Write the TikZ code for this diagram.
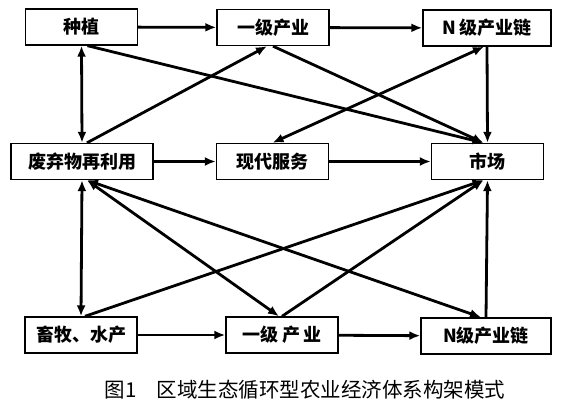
\documentclass[tikz,border=0pt]{standalone}
\usepackage{fontspec}
\newfontfamily\cjk{Noto Sans CJK SC}
\usetikzlibrary{arrows.meta}

\begin{document}
\begin{tikzpicture}[x=1pt,y=1pt,->,>={Latex[length=11pt,width=9pt]},line width=2.8pt,
  box/.style={draw,->,line width=1.4pt,minimum width=112pt,minimum height=36pt,inner sep=0pt,
    font=\cjk\bfseries\fontsize{18}{20}\selectfont}]
  \useasboundingbox (0,0) rectangle (572,412);
  % top row
  \node[box] (zz) at (81.5,385) {种植};
  \node[box] (yj1) at (273,384.5) {一级产业};
  \node[box,minimum width=128pt] (nj1) at (487,384) {N 级产业链};
  % middle row
  \node[box,minimum width=142pt] (fq) at (82,250.5) {废弃物再利用};
  \node[box] (xd) at (272.5,250.5) {现代服务};
  \node[box] (sc) at (487.5,250.5) {市场};
  % bottom row
  \node[box] (xm) at (81,77) {畜牧、水产};
  \node[box] (yj2) at (282,77) {一级\hspace{4pt}产\hspace{4pt}业};
  \node[box,minimum width=130pt] (nj2) at (486,76) {N级产业链};
  \node[font=\cjk\fontsize{20.5}{22}\selectfont] (cap) at (305,22)
    {图1\quad 区域生态循环型农业经济体系构架模式};
  % where the slanted lines meet the boxes
  \coordinate (zz-s) at ([xshift=6pt]zz.south);
  \coordinate (yj1-s) at ([xshift=-6pt]yj1.south);
  \coordinate (nj1-s) at ([xshift=-3pt]nj1.south);
  \coordinate (fq-n) at ([xshift=5pt]fq.north);
  \coordinate (fq-s) at ([xshift=5pt]fq.south);
  \coordinate (sc-n) at ([xshift=-4pt]sc.north);
  \coordinate (sc-s) at ([xshift=-4pt]sc.south);
  \coordinate (xm-n) at ([xshift=4pt]xm.north);
  \coordinate (yj2-n) at ([xshift=-3pt]yj2.north);
  \coordinate (nj2-n) at ([xshift=-5pt]nj2.north);
  \path (zz) edge (yj1)
  (yj1) edge (nj1)
  (zz.south) edge [<->] (fq.north)
  (zz-s) edge (sc-n)
  (yj1.south) edge (sc-n)
  (fq-n) edge (yj1-s)
  (nj1.south) edge (sc.north)
  (xd.north) edge [<->] (nj1-s)
  (fq) edge (xd)
  (xd) edge (sc)
  (fq.south) edge [<->] (xm.north)
  (fq-s) edge [<->] (yj2-n)
  (fq-s) edge [<->] (nj2-n)
  (xm-n) edge (sc-s)
  (yj2.north) edge (sc-s)
  (nj2.north) edge (sc.south)
  (xm) edge (yj2)
  (yj2) edge (nj2);
\end{tikzpicture}
\end{document}
